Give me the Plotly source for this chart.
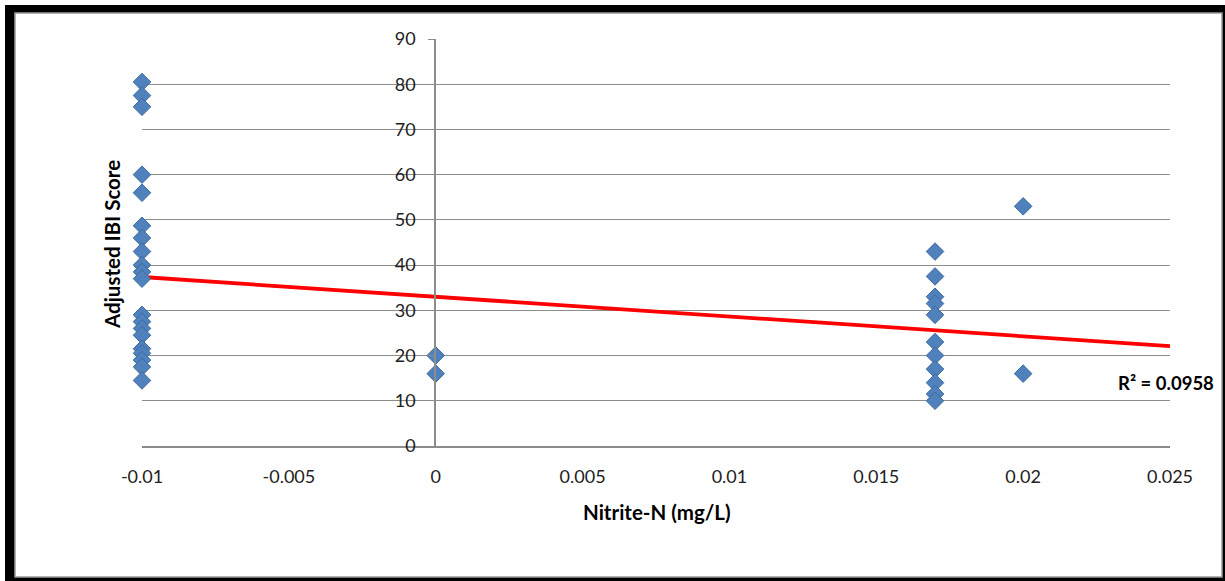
import plotly.graph_objects as go
import numpy as np

# ---- data ----
nitrite_x = ([-0.01] * 20) + ([0.0] * 2) + ([0.017] * 11) + ([0.02] * 2)
ibi_score = [80.5, 77.5, 75.0, 60.0, 56.0, 48.7, 46.0, 43.0, 40.0, 38.5, 37.0,
             29.0, 27.5, 26.0, 24.5, 21.5, 20.5, 19.0, 17.5, 14.5,
             20.0, 16.0,
             43.0, 37.5, 33.0, 31.5, 29.0, 23.0, 20.0, 17.0, 14.0, 11.5, 10.0,
             53.0, 16.0]
trend_slope = -437.0
trend_intercept = 33.0
r_squared_label = "R² = 0.0958"
x_tickvals = [-0.01, -0.005, 0, 0.005, 0.01, 0.015, 0.02, 0.025]
x_ticktext = ["-0.01", "-0.005", "0", "0.005", "0.01", "0.015", "0.02", "0.025"]
y_tickvals = [0, 10, 20, 30, 40, 50, 60, 70, 80, 90]
x_range = [-0.01, 0.025]
y_range = [0, 90]

FONT = "Lato, Open Sans, sans-serif"
W, H = 1225, 581
L, R, T, B = 142, 1170, 39, 446  # plot-area pixel bounds


def px(xp):
    return (xp - L) / (R - L)


def py(yp):
    return (B - yp) / (B - T)


trend_xs = np.array(x_range)
trend_ys = trend_intercept + trend_slope * trend_xs

fig = go.Figure()
fig.add_trace(go.Scatter(
    x=trend_xs, y=trend_ys, mode="lines", cliponaxis=False,
    line=dict(color="#FF0000", width=3.8), hoverinfo="skip", showlegend=False))
fig.add_trace(go.Scatter(
    x=nitrite_x, y=ibi_score, mode="markers", cliponaxis=False,
    marker=dict(symbol="diamond", size=13.5, color="#4F81BD",
                line=dict(color="#3F6A9E", width=1)),
    showlegend=False))

# frame (black border with white inner page)
fig.add_shape(type="rect", xref="paper", yref="paper",
              x0=px(5), x1=px(1226), y0=py(582), y1=py(5),
              fillcolor="black", line=dict(width=0), layer="below")
fig.add_shape(type="rect", xref="paper", yref="paper",
              x0=px(15), x1=px(1222), y0=py(577), y1=py(13),
              fillcolor="white", line=dict(color="#9a9a9a", width=1.5), layer="below")

fig.add_annotation(text="<b>Adjusted IBI Score</b>", xref="paper", yref="paper",
                   x=px(112), y=py(245), textangle=-90, showarrow=False,
                   xanchor="center", yanchor="middle",
                   font=dict(family=FONT, size=20.5, color="black"))
fig.add_annotation(text="<b>Nitrite-N (mg/L)</b>", xref="paper", yref="paper",
                   x=px(657), y=py(512), showarrow=False,
                   xanchor="center", yanchor="middle",
                   font=dict(family=FONT, size=20.5, color="black"))
fig.add_annotation(text="<b>" + r_squared_label + "</b>", xref="paper", yref="paper",
                   x=px(1166), y=py(383), showarrow=False,
                   xanchor="center", yanchor="middle",
                   font=dict(family=FONT, size=18.5, color="black"))

fig.update_layout(
    width=W, height=H,
    margin=dict(l=L, r=W - R, t=T, b=H - B),
    paper_bgcolor="white", plot_bgcolor="rgba(0,0,0,0)",
    font=dict(family=FONT, size=18, color="#222222"),
    xaxis=dict(range=x_range, tickvals=x_tickvals, ticktext=x_ticktext,
               showgrid=False, zeroline=False, showline=True, linecolor="#8c8c8c",
               linewidth=1.5, ticks="", ticklabelstandoff=14,
               tickfont=dict(family=FONT, size=18, color="#222222")),
    yaxis=dict(range=y_range, tickvals=y_tickvals, anchor="free", position=px(435),
               showgrid=True, gridcolor="#8c8c8c", gridwidth=1.2,
               zeroline=False, showline=True, linecolor="#8c8c8c", linewidth=1.5,
               ticks="outside", ticklen=6, tickcolor="#8c8c8c",
               ticklabelstandoff=9,
               tickfont=dict(family=FONT, size=18, color="#222222")),
)

fig.write_html("out.html", config={"displayModeBar": False},
               post_script="document.body.style.margin='0px';")
